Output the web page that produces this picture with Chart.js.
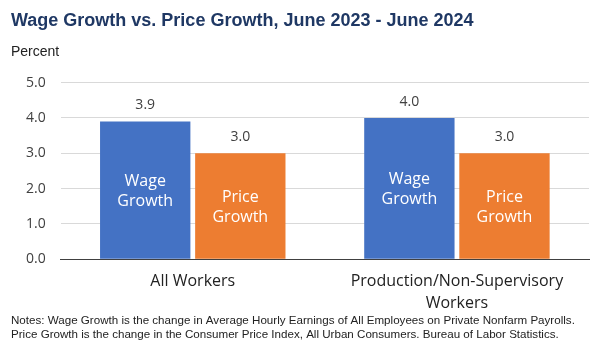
<!DOCTYPE html>
<html>
<head>
<meta charset="utf-8">
<script src="https://cdn.jsdelivr.net/npm/chart.js@4.4.0/dist/chart.umd.min.js"></script>
<style>
  html, body { margin: 0; padding: 0; background: #fff; }
  #wrap { width: 606px; height: 348px; position: relative; }
</style>
</head>
<body>
<div id="wrap"><canvas id="wageChart"></canvas></div>
<script>
// Chart data
const categories = [['All Workers'], ['Production/Non-Supervisory', 'Workers']];
const wageGrowth = [3.9, 4.0];
const priceGrowth = [3.0, 3.0];
const seriesNames = [['Wage', 'Growth'], ['Price', 'Growth']];
const yTicks = [0, 1, 2, 3, 4, 5];

const blue = '#4472c4';
const orange = '#ed7d31';

// Draws "Percent", value labels above bars and series names inside bars
const labelPlugin = {
    id: 'labelPlugin',
    afterDatasetsDraw(chart) {
        const ctx = chart.ctx;
        ctx.save();
        ctx.fillStyle = '#222';
        ctx.font = '14px "Liberation Sans", Arial, sans-serif';
        ctx.textAlign = 'left';
        ctx.textBaseline = 'middle';
        ctx.fillText('Percent', 11, 52);

        chart.data.datasets.forEach((ds, di) => {
            const meta = chart.getDatasetMeta(di);
            meta.data.forEach((bar, i) => {
                ctx.textAlign = 'center';
                ctx.fillStyle = '#404040';
                ctx.font = '14px "Open Sans", sans-serif';
                ctx.fillText(ds.data[i].toFixed(1), bar.x, bar.y - 16);
                ctx.fillStyle = '#fff';
                ctx.font = '16px "Open Sans", sans-serif';
                const mid = (bar.y + bar.base) / 2;
                ctx.fillText(seriesNames[di][0], bar.x, mid - 9);
                ctx.fillText(seriesNames[di][1], bar.x, mid + 11);
            });
        });
        ctx.restore();
    }
};

const ctx = document.getElementById('wageChart').getContext('2d');
const wageChart = new Chart(ctx, {
    type: 'bar',
    data: {
        labels: categories,
        datasets: [{
            label: 'Wage Growth',
            data: wageGrowth,
            backgroundColor: blue,
            categoryPercentage: 0.72,
            barPercentage: 0.95
        }, {
            label: 'Price Growth',
            data: priceGrowth,
            backgroundColor: orange,
            categoryPercentage: 0.72,
            barPercentage: 0.95
        }]
    },
    options: {
        responsive: true,
        maintainAspectRatio: false,
        animation: false,
        layout: {
            padding: { left: 11, right: 17, top: 0, bottom: 6 }
        },
        plugins: {
            legend: { display: false },
            tooltip: { enabled: false },
            title: {
                display: true,
                text: 'Wage Growth vs. Price Growth, June 2023 - June 2024',
                align: 'start',
                color: '#1f3864',
                font: { family: '"Liberation Sans", Arial, sans-serif', size: 18, weight: 'bold' },
                padding: { top: 10, bottom: 51 }
            },
            subtitle: {
                display: true,
                position: 'bottom',
                align: 'start',
                text: [
                    'Notes: Wage Growth is the change in Average Hourly Earnings of All Employees on Private Nonfarm Payrolls.',
                    'Price Growth is the change in the Consumer Price Index, All Urban Consumers. Bureau of Labor Statistics.'
                ],
                color: '#222',
                font: { family: '"Liberation Sans", Arial, sans-serif', size: 11.6, lineHeight: 1.2 },
                padding: { top: 0, bottom: 0 }
            }
        },
        scales: {
            x: {
                grid: { display: false, drawTicks: false },
                border: { display: true, color: '#404040', width: 1 },
                ticks: {
                    color: '#222',
                    font: { family: '"Open Sans", sans-serif', size: 16, lineHeight: 1.375 },
                    padding: 11,
                    maxRotation: 0,
                    autoSkip: false
                },
                afterFit: function (axis) {
                    axis.height = 55;
                }
            },
            y: {
                min: 0,
                max: 5,
                afterBuildTicks: function (axis) {
                    axis.ticks = yTicks.map(v => ({ value: v }));
                },
                grid: { color: '#d9d9d9', drawTicks: false },
                border: { display: false },
                ticks: {
                    color: '#404040',
                    font: { family: '"Open Sans", sans-serif', size: 14 },
                    padding: 15,
                    callback: function (value) {
                        return value.toFixed(1);
                    }
                }
            }
        }
    },
    plugins: [labelPlugin]
});
</script>
</body>
</html>
